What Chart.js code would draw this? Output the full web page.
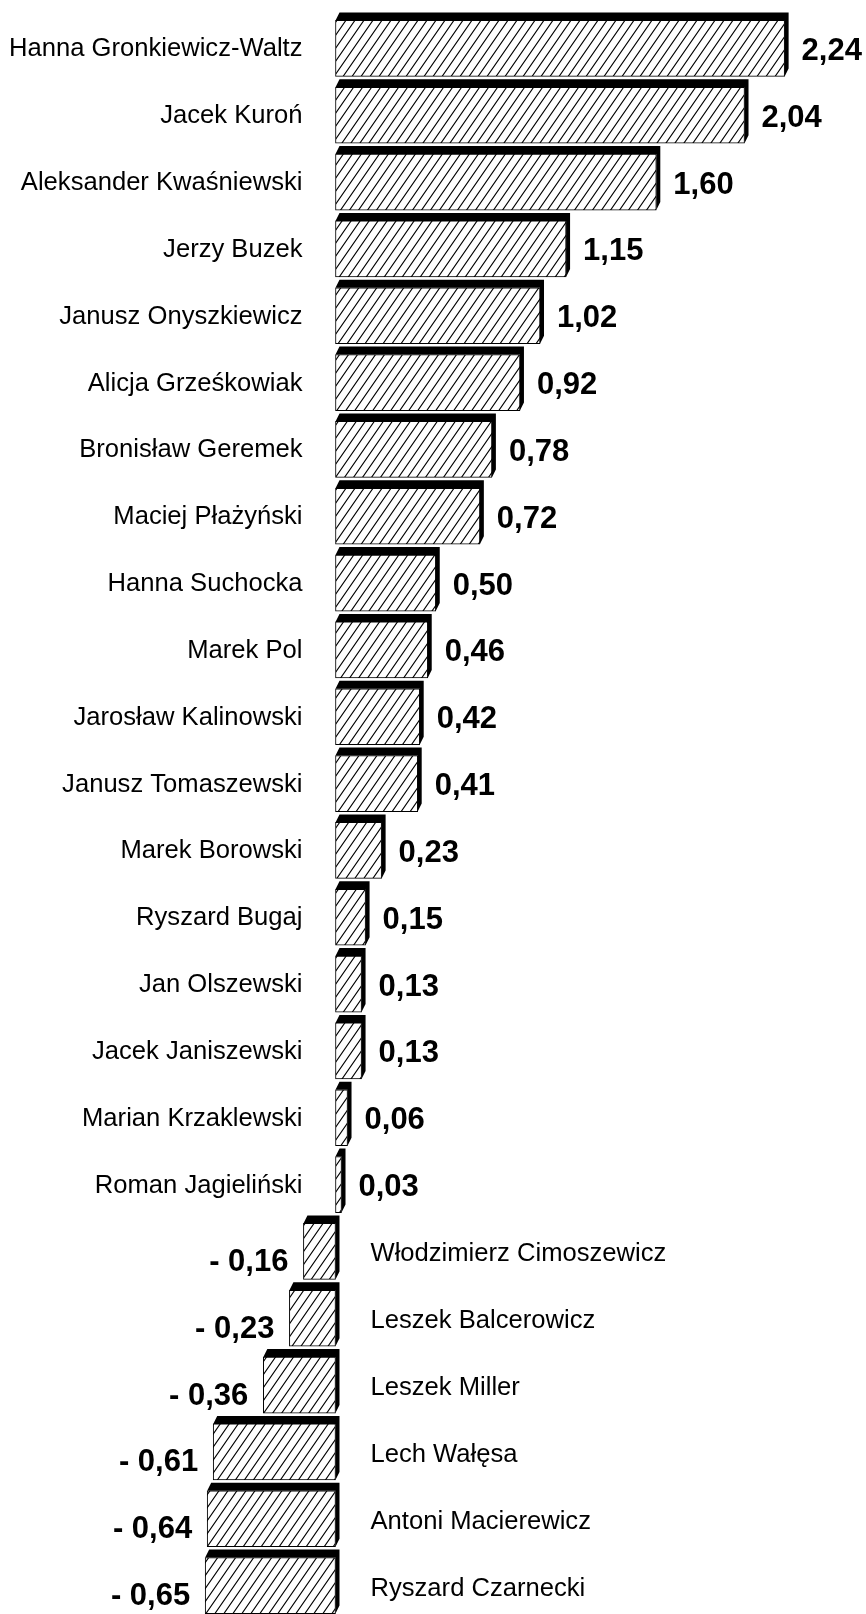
<!DOCTYPE html>
<html>
<head>
<meta charset="utf-8">
<script src="https://cdn.jsdelivr.net/npm/chart.js@4"></script>
<style>
  html, body { margin: 0; padding: 0; background: #ffffff; overflow: hidden; }
  #wrap { width: 866px; height: 1619px; }
</style>
</head>
<body>
<div id="wrap"><canvas id="c" width="866" height="1619"></canvas></div>
<script>
const names = [
  "Hanna Gronkiewicz-Waltz", "Jacek Kuroń", "Aleksander Kwaśniewski", "Jerzy Buzek",
  "Janusz Onyszkiewicz", "Alicja Grześkowiak", "Bronisław Geremek", "Maciej Płażyński",
  "Hanna Suchocka", "Marek Pol", "Jarosław Kalinowski", "Janusz Tomaszewski",
  "Marek Borowski", "Ryszard Bugaj", "Jan Olszewski", "Jacek Janiszewski",
  "Marian Krzaklewski", "Roman Jagieliński", "Włodzimierz Cimoszewicz", "Leszek Balcerowicz",
  "Leszek Miller", "Lech Wałęsa", "Antoni Macierewicz", "Ryszard Czarnecki"
];
const values = [
  2.24, 2.04, 1.60, 1.15,
  1.02, 0.92, 0.78, 0.72,
  0.50, 0.46, 0.42, 0.41,
  0.23, 0.15, 0.13, 0.13,
  0.06, 0.03, -0.16, -0.23,
  -0.36, -0.61, -0.64, -0.65
];
const xMin = -1.6733;
const xMax = 2.6459;

function formatValue(v) {
  const s = Math.abs(v).toFixed(2).replace('.', ',');
  return v < 0 ? '- ' + s : s;
}

// hatch pattern (diagonal "/" lines)
const PW = 9, PH = 13;
const pc = document.createElement('canvas');
pc.width = PW; pc.height = PH;
const pctx = pc.getContext('2d');
pctx.fillStyle = '#ffffff';
pctx.fillRect(0, 0, PW, PH);
pctx.strokeStyle = '#000000';
pctx.lineWidth = 1.1;
pctx.beginPath();
pctx.moveTo(-PW, 2 * PH); pctx.lineTo(2 * PW, -PH);
pctx.moveTo(-2 * PW, 2 * PH); pctx.lineTo(PW, -PH);
pctx.moveTo(0, 2 * PH); pctx.lineTo(3 * PW, -PH);
pctx.stroke();
const hatch = document.createElement('canvas').getContext('2d').createPattern(pc, 'repeat');

const DX = 4, DY = 8;

const depthPlugin = {
  id: 'depth',
  beforeDatasetsDraw(chart) {
    const ctx = chart.ctx;
    const meta = chart.getDatasetMeta(0);
    ctx.save();
    ctx.fillStyle = '#000000';
    meta.data.forEach((el) => {
      const p = el.getProps(['x', 'y', 'base', 'height'], true);
      const left = Math.min(p.x, p.base), right = Math.max(p.x, p.base);
      const top = p.y - p.height / 2, bottom = p.y + p.height / 2;
      ctx.beginPath();
      ctx.moveTo(left, top);
      ctx.lineTo(left + DX, top - DY);
      ctx.lineTo(right + DX, top - DY);
      ctx.lineTo(right + DX, bottom - DY);
      ctx.lineTo(right, bottom);
      ctx.lineTo(right, top);
      ctx.closePath();
      ctx.fill();
    });
    ctx.restore();
  },
  afterDatasetsDraw(chart) {
    const ctx = chart.ctx;
    const meta = chart.getDatasetMeta(0);
    const zero = chart.scales.x.getPixelForValue(0);
    ctx.save();
    ctx.fillStyle = '#000000';
    ctx.textBaseline = 'middle';
    meta.data.forEach((el, i) => {
      const p = el.getProps(['x', 'y', 'base', 'height'], true);
      const v = values[i];
      const left = Math.min(p.x, p.base), right = Math.max(p.x, p.base);
      ctx.font = '25.6px "Liberation Sans", Arial, sans-serif';
      if (v >= 0) {
        ctx.textAlign = 'right';
        ctx.fillText(names[i], zero - 33, p.y + 1);
        ctx.font = 'bold 31px "Liberation Sans", Arial, sans-serif';
        ctx.textAlign = 'left';
        ctx.fillText(formatValue(v), right + 17, p.y + 3);
      } else {
        ctx.textAlign = 'left';
        ctx.fillText(names[i], zero + 35, p.y + 3);
        ctx.font = 'bold 31px "Liberation Sans", Arial, sans-serif';
        ctx.textAlign = 'right';
        ctx.fillText(formatValue(v), left - 15, p.y + 11);
      }
    });
    ctx.restore();
  }
};

new Chart(document.getElementById('c'), {
  type: 'bar',
  data: {
    labels: names,
    datasets: [{
      data: values,
      backgroundColor: hatch,
      borderColor: '#000000',
      borderWidth: 1,
      borderSkipped: false,
      barThickness: 56
    }]
  },
  options: {
    indexAxis: 'y',
    responsive: false,
    animation: false,
    devicePixelRatio: 1,
    layout: { padding: { top: 15, bottom: 0, left: 0, right: 0 } },
    scales: {
      x: { display: false, min: xMin, max: xMax },
      y: { display: false }
    },
    plugins: {
      legend: { display: false },
      tooltip: { enabled: false }
    }
  },
  plugins: [depthPlugin]
});
</script>
</body>
</html>
